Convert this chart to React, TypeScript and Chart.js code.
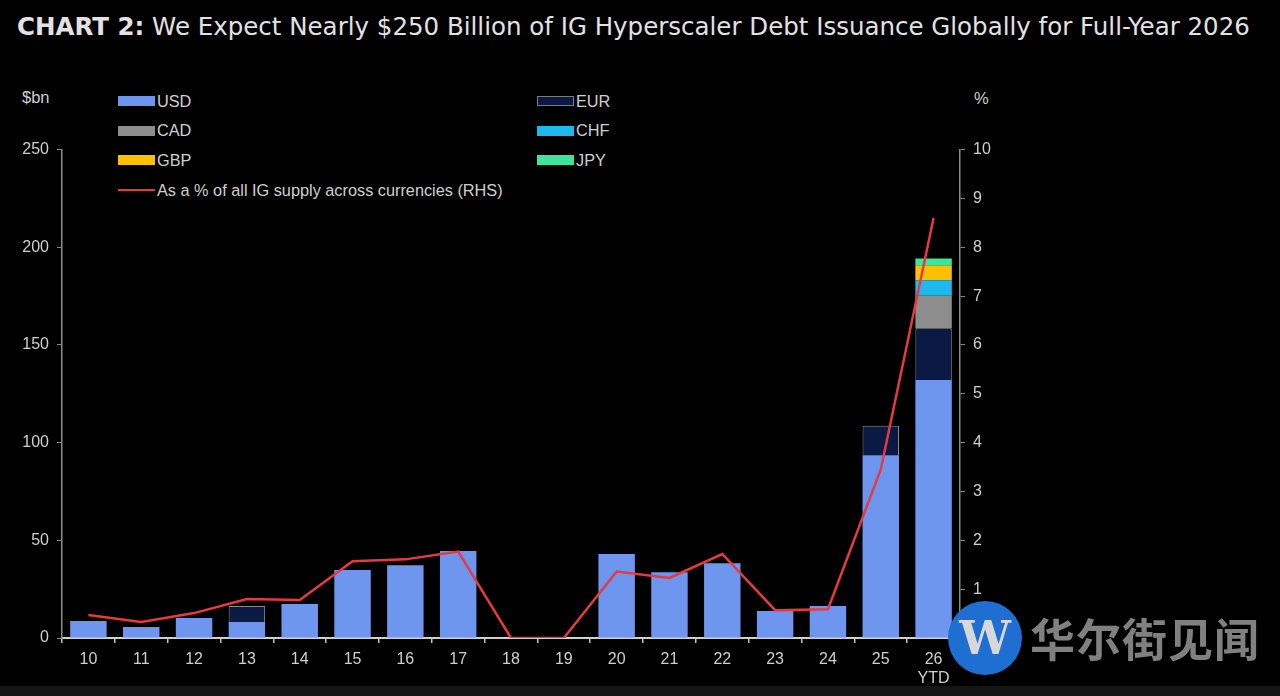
import React, { useEffect, useRef } from "react";
import { Chart, registerables } from "chart.js";

Chart.register(...registerables);

const categories: (string | string[])[] = ["10", "11", "12", "13", "14", "15", "16", "17", "18", "19", "20", "21", "22", "23", "24", "25", ["26", "YTD"]];
const usd = [8.7, 5.6, 10.2, 8.2, 17.4, 34.8, 37.3, 44.5, 0, 0, 43, 33.7, 38.3, 13.8, 16.4, 93.6, 132];
const eur = [0, 0, 0, 8.2, 0, 0, 0, 0, 0, 0, 0, 0, 0, 0, 0, 15, 26.6];
const cad = [0, 0, 0, 0, 0, 0, 0, 0, 0, 0, 0, 0, 0, 0, 0, 0, 16.8];
const chf = [0, 0, 0, 0, 0, 0, 0, 0, 0, 0, 0, 0, 0, 0, 0, 0, 7.7];
const gbp = [0, 0, 0, 0, 0, 0, 0, 0, 0, 0, 0, 0, 0, 0, 0, 0, 7.7];
const jpy = [0, 0, 0, 0, 0, 0, 0, 0, 0, 0, 0, 0, 0, 0, 0, 0, 3.4];
const pctOfIG = [0.47, 0.33, 0.51, 0.8, 0.78, 1.57, 1.61, 1.77, 0, 0, 1.36, 1.23, 1.72, 0.57, 0.59, 3.45, 8.6];
const leftTicks = [0, 50, 100, 150, 200, 250];
const rightTicks = [0, 1, 2, 3, 4, 5, 6, 7, 8, 9, 10];

const C_USD = "#6e96ef";
const C_EUR = "#0b1a45";
const C_CAD = "#8d8d8d";
const C_CHF = "#1db8ee";
const C_GBP = "#ffc000";
const C_JPY = "#40e39c";
const C_LINE = "#e63a40";
const TXT = "#cfcfcf";
const FONT = "'Liberation Sans', Arial, sans-serif";
const FS = 16;

const legendItems = [
  { label: "USD", color: C_USD, col: 0, row: 0 },
  { label: "EUR", color: C_EUR, col: 1, row: 0, border: true },
  { label: "CAD", color: C_CAD, col: 0, row: 1 },
  { label: "CHF", color: C_CHF, col: 1, row: 1 },
  { label: "GBP", color: C_GBP, col: 0, row: 2 },
  { label: "JPY", color: C_JPY, col: 1, row: 2 },
];

export default function App() {
  const ref = useRef<HTMLCanvasElement | null>(null);

  useEffect(() => {
    document.body.style.margin = "0";
    document.body.style.background = "#000";
    const canvas = ref.current;
    if (!canvas) return;
    const barBase = {
      type: "bar" as const,
      stack: "s",
      yAxisID: "y",
      categoryPercentage: 1,
      barPercentage: 0.69,
      borderWidth: 0,
      order: 2,
    };
    const chart = new Chart(canvas, {
      type: "bar",
      data: {
        labels: categories,
        datasets: [
          { ...barBase, label: "USD", data: usd, backgroundColor: C_USD },
          { ...barBase, label: "EUR", data: eur, backgroundColor: C_EUR, borderColor: "#8a8a8a", borderWidth: 1 },
          { ...barBase, label: "CAD", data: cad, backgroundColor: C_CAD },
          { ...barBase, label: "CHF", data: chf, backgroundColor: C_CHF },
          { ...barBase, label: "GBP", data: gbp, backgroundColor: C_GBP },
          { ...barBase, label: "JPY", data: jpy, backgroundColor: C_JPY },
          {
            type: "line" as const,
            label: "As a % of all IG supply across currencies (RHS)",
            data: pctOfIG,
            yAxisID: "y1",
            borderColor: C_LINE,
            borderWidth: 2.5,
            pointRadius: 0,
            tension: 0,
            order: 1,
          } as any,
        ],
      },
      options: {
        responsive: false,
        maintainAspectRatio: false,
        animation: false,
        layout: { padding: { top: 1, left: 0, right: 0, bottom: 0 } },
        plugins: { legend: { display: false }, tooltip: { enabled: false }, title: { display: false } },
        scales: {
          x: {
            stacked: true,
            offset: true,
            grid: { display: true, offset: true, drawOnChartArea: false, drawTicks: true, tickLength: 5, color: "#bdbdbd", lineWidth: 1.5 },
            border: { display: true, color: "#cfcfcf", width: 2 },
            ticks: { color: TXT, font: { family: FONT, size: FS }, padding: 7, maxRotation: 0, autoSkip: false },
            afterFit: (s: any) => { s.height = 52; },
          },
          y: {
            stacked: true,
            position: "left",
            min: 0,
            max: 250,
            afterBuildTicks: (s: any) => { s.ticks = leftTicks.map((v) => ({ value: v })); },
            grid: { drawOnChartArea: false, drawTicks: true, tickLength: 5, color: "#8a8a8a" },
            border: { display: true, color: "#8a8a8a", width: 1.5 },
            ticks: { color: TXT, font: { family: FONT, size: FS }, padding: 8 },
            afterFit: (s: any) => { s.width = 62; },
          },
          y1: {
            position: "right",
            min: 0,
            max: 10,
            afterBuildTicks: (s: any) => { s.ticks = rightTicks.map((v) => ({ value: v })); },
            grid: { drawOnChartArea: false, drawTicks: true, tickLength: 5, color: "#8a8a8a" },
            border: { display: true, color: "#8a8a8a", width: 1.5 },
            ticks: { color: TXT, font: { family: FONT, size: FS }, padding: 8 },
            afterFit: (s: any) => { s.width = 50; },
          },
        },
      },
    } as any);
    return () => chart.destroy();
  }, []);

  return (
    <div style={{ position: "fixed", left: 0, top: 0, width: 1280, height: 696, background: "#000", overflow: "hidden", fontFamily: FONT }}>
      <div style={{ position: "absolute", left: 17, top: 10, color: "#e2e2e2", fontFamily: "'DejaVu Sans', sans-serif", fontSize: 24.5, whiteSpace: "nowrap", lineHeight: "34px" }}>
        <span style={{ fontWeight: 700 }}>CHART 2:</span> We Expect Nearly $250 Billion of IG Hyperscaler Debt Issuance Globally for Full-Year 2026
      </div>
      <div style={{ position: "absolute", left: 22, top: 88, color: TXT, fontSize: 16.5 }}>$bn</div>
      <div style={{ position: "absolute", left: 974, top: 89, color: TXT, fontSize: 16.5 }}>%</div>
      {legendItems.map((it) => (
        <div key={it.label} style={{ position: "absolute", left: it.col === 0 ? 118 : 537, top: 92 + it.row * 29.7, height: 18, display: "flex", alignItems: "center" }}>
          <div style={{ width: 37, height: 10, background: it.color, boxSizing: "border-box", border: it.border ? "1px solid #7a7a7a" : "none" }} />
          <span style={{ color: TXT, fontSize: 16.3, marginLeft: 2 }}>{it.label}</span>
        </div>
      ))}
      <div style={{ position: "absolute", left: 118, top: 181, height: 18, display: "flex", alignItems: "center" }}>
        <div style={{ width: 37, height: 2.5, background: C_LINE }} />
        <span style={{ color: TXT, fontSize: 16.3, marginLeft: 2 }}>As a % of all IG supply across currencies (RHS)</span>
      </div>
      <canvas ref={ref} width={1010} height={558} style={{ position: "absolute", left: 0, top: 132, width: 1010, height: 558 }} />
      <div style={{ position: "absolute", left: 948, top: 601, width: 74, height: 74, borderRadius: "50%", background: "#1f6fd2", display: "flex", alignItems: "center", justifyContent: "center", color: "#d8d8d8", fontFamily: "'DejaVu Serif', serif", fontWeight: 700, fontSize: 46 }}>W</div>
      <div style={{ position: "absolute", left: 1030, top: 608, color: "rgba(150,150,150,0.85)", fontFamily: "'Noto Sans CJK SC', sans-serif", fontWeight: 700, fontSize: 45, lineHeight: "60px", letterSpacing: 1 }}>华尔街见闻</div>
      <div style={{ position: "absolute", left: 0, top: 686, width: 1280, height: 10, background: "#151515" }} />
    </div>
  );
}
